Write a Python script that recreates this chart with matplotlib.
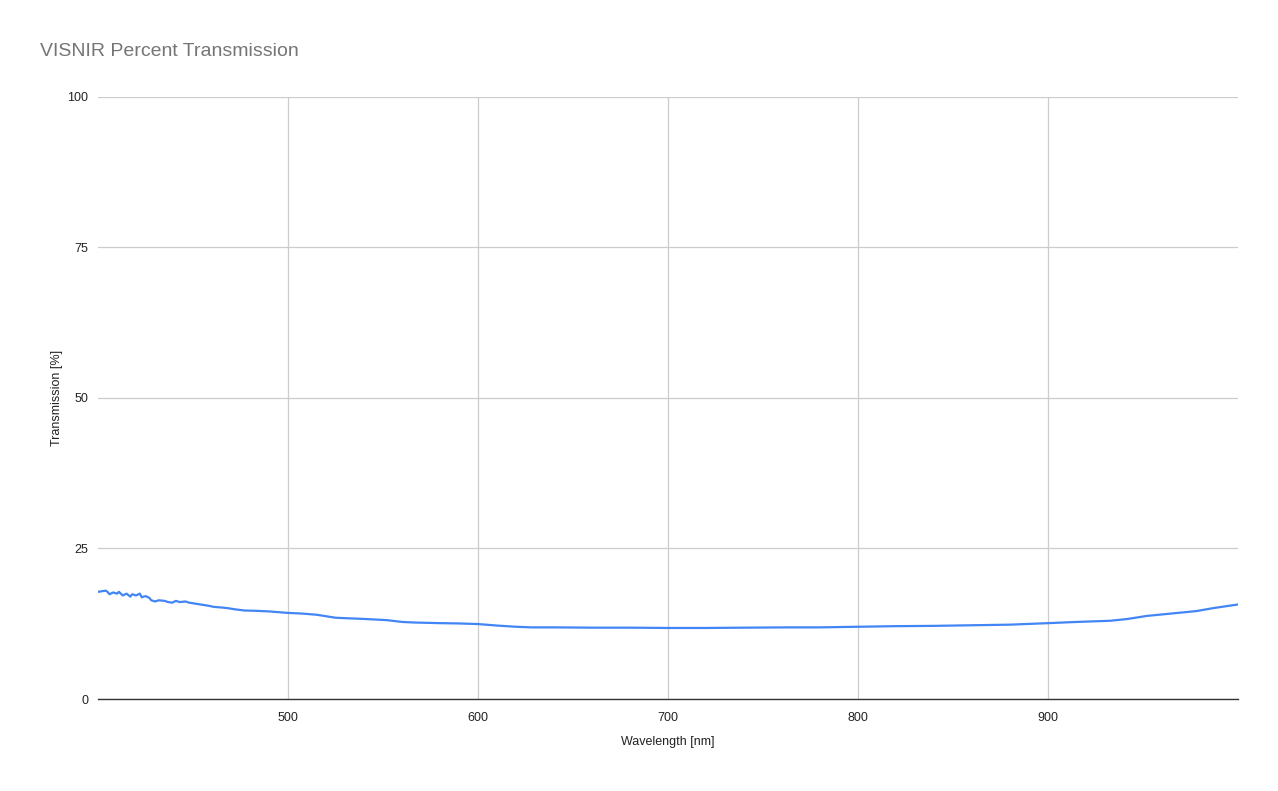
import matplotlib.pyplot as plt

# values
wavelength = [400, 402, 404, 405, 406, 408, 410, 411, 413, 415, 417, 418, 420, 422, 423,
              425, 427, 428, 430, 432, 435, 437, 439, 441, 443, 446, 448, 450, 454, 458,
              461, 465, 468, 472, 477, 483, 490, 500, 507, 515, 525, 532, 540, 552, 560,
              567, 580, 590, 600, 610, 620, 628, 640, 660, 680, 700, 720, 740, 764, 780,
              800, 820, 840, 860, 880, 900, 915, 933, 942, 952, 965, 978, 987, 1000]
transmission = [17.8, 17.9, 18.0, 17.8, 17.4, 17.7, 17.5, 17.8, 17.2, 17.5, 17.0, 17.4, 17.2,
                17.5, 16.9, 17.1, 16.8, 16.4, 16.2, 16.4, 16.3, 16.1, 16.0, 16.3, 16.1, 16.2,
                16.0, 15.9, 15.7, 15.5, 15.3, 15.2, 15.1, 14.9, 14.7, 14.65, 14.55, 14.3, 14.2,
                14.0, 13.5, 13.4, 13.3, 13.1, 12.8, 12.7, 12.6, 12.55, 12.45, 12.2, 12.0, 11.9,
                11.9, 11.85, 11.85, 11.8, 11.8, 11.85, 11.9, 11.9, 12.0, 12.1, 12.15, 12.25,
                12.35, 12.6, 12.8, 13.0, 13.3, 13.8, 14.2, 14.6, 15.1, 15.7]

x_ticks = [500, 600, 700, 800, 900]
y_ticks = [0, 25, 50, 75, 100]

plt.rcParams['font.family'] = ['Liberation Sans', 'DejaVu Sans']

fig = plt.figure(figsize=(12.78, 7.91), dpi=100)
ax = fig.add_axes([0.0767, 0.1163, 0.892, 0.7611])

ax.plot(wavelength, transmission, color='#4285F4', linewidth=1.6)

ax.set_xlim(400, 1000)
ax.set_ylim(0, 100)
ax.set_xticks(x_ticks)
ax.set_yticks(y_ticks)
ax.grid(True, color='#cccccc', linewidth=0.9)
ax.set_axisbelow(True)

for side in ['top', 'right', 'left']:
    ax.spines[side].set_visible(False)
ax.spines['bottom'].set_color('#333333')
ax.spines['bottom'].set_linewidth(1)

ax.tick_params(axis='both', length=0, labelsize=9, colors='#222222')
ax.tick_params(axis='x', pad=9)
ax.tick_params(axis='y', pad=7)

ax.set_xlabel('Wavelength [nm]', fontsize=9, color='#222222', labelpad=9)
ax.set_ylabel('Transmission [%]', fontsize=9, color='#222222', labelpad=3)

fig.text(40 / 1278, 1 - 52 / 791, 'VISNIR Percent Transmission', fontsize=14,
         color='#757575', ha='left', va='center')

fig.savefig('out.png', dpi=100)
